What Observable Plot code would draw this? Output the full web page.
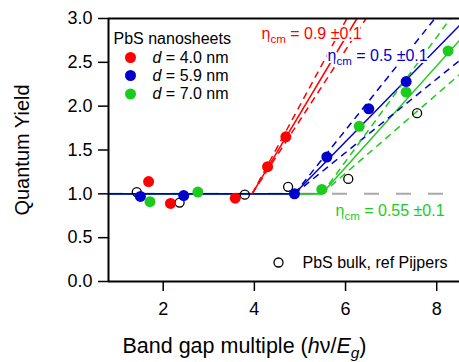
<!DOCTYPE html>
<html><head><meta charset="utf-8">
<script src="https://cdn.jsdelivr.net/npm/d3@7"></script>
<script src="https://cdn.jsdelivr.net/npm/@observablehq/plot@0.6"></script>
<style>body{margin:0;background:#fff}svg{display:block}</style>
</head><body><div id="chart"></div>
<script>
// ---- data ----
const seriesNames = ["d = 4.0 nm", "d = 5.9 nm", "d = 7.0 nm"];
const seriesColors = ["#ff0000", "#0000cc", "#1ccc1c"];
const redX = [1.68, 2.16, 3.58, 4.29, 4.69];
const redY = [1.14, 0.89, 0.95, 1.31, 1.65];
const blueX = [1.50, 2.45, 4.88, 5.59, 6.51, 7.33];
const blueY = [0.97, 0.98, 1.00, 1.42, 1.97, 2.28];
const greenX = [1.71, 2.76, 5.48, 6.30, 7.33, 8.25];
const greenY = [0.91, 1.02, 1.05, 1.77, 2.16, 2.63];
const bulkName = "PbS bulk, ref Pijpers";
const bulkX = [1.42, 2.36, 3.79, 4.74, 6.06, 7.57];
const bulkY = [1.02, 0.90, 0.99, 1.08, 1.17, 1.92];
// flat part of the fits (y = 1)
const flatSeries = [2, 1];
const flatX1 = [0.8, 0.8];
const flatX2 = [5.48, 4.88];
// sloped fits: solid line and two dashed error lines per series
const fitSeries = [0, 0, 0, 1, 1, 1, 2, 2, 2];
const fitDashed = [false, true, true, false, true, true, false, true, true];
const fitX1 = [3.95, 3.95, 3.95, 4.88, 4.88, 4.88, 5.48, 5.48, 5.48];
const fitY1 = [1, 1, 1, 1, 1, 1, 1, 1, 1];
const fitX2 = [6.25, 6.03, 6.45, 8.5, 7.96, 8.5, 8.5, 8.3, 8.5];
const fitY2 = [3, 3, 3, 2.92, 3, 2.52, 2.75, 3, 2.36];
const etaValues = ["0.9 ±0.1", "0.5 ±0.1", "0.55 ±0.1"];
const legendTitle = "PbS nanosheets";
const yLabel = "Quantum Yield";
const xLabel = "Band gap multiple (hν/Eg)";
const xTicks = [2, 4, 6, 8];
const yTicks = [0, 0.5, 1, 1.5, 2, 2.5, 3];
const xDomain = [0.8, 8.5];
const yDomain = [0, 3];

// ---- tables ----
const dots = [
  ...redX.map((x, i) => ({x, y: redY[i], s: 0})),
  ...blueX.map((x, i) => ({x, y: blueY[i], s: 1})),
  ...greenX.map((x, i) => ({x, y: greenY[i], s: 2}))
];
const bulk = bulkX.map((x, i) => ({x, y: bulkY[i]}));
const flats = flatSeries.map((s, i) => ({s, x1: flatX1[i], x2: flatX2[i], y: 1}));
const fits = fitSeries.map((s, i) => ({s, dashed: fitDashed[i], x1: fitX1[i], y1: fitY1[i], x2: fitX2[i], y2: fitY2[i]}));
const col = d => seriesColors[d.s];
const FONT = "Liberation Sans, Arial, Helvetica, sans-serif";

const etaPos = [{dx: 153, dy: 15}, {dx: 219, dy: 37}, {dx: 227, dy: 192}];
const rowDy = [39, 57, 75.5];

const chart = Plot.plot({
  width: 459, height: 362,
  marginLeft: 108, marginRight: 0, marginTop: 18, marginBottom: 81,
  x: {domain: xDomain},
  y: {domain: yDomain},
  style: {fontFamily: FONT, color: "#000", background: "#fff"},
  marks: [
    Plot.ruleY([1], {stroke: "#a8a8a8", strokeWidth: 2, strokeDasharray: "15,17"}),
    Plot.link(flats, {x1: "x1", x2: "x2", y1: "y", y2: "y", stroke: col, strokeWidth: 1.8}),
    Plot.link(fits.filter(d => !d.dashed), {x1: "x1", y1: "y1", x2: "x2", y2: "y2", stroke: col, strokeWidth: 1.5, clip: true}),
    Plot.link(fits.filter(d => d.dashed), {x1: "x1", y1: "y1", x2: "x2", y2: "y2", stroke: col, strokeWidth: 1.5, strokeDasharray: "7,5", clip: true}),
    ...etaValues.map((v, i) => Plot.text(["ηcm = " + v], {
      frameAnchor: "top-left", dx: etaPos[i].dx, dy: etaPos[i].dy, textAnchor: "start", lineAnchor: "middle",
      fill: seriesColors[i], stroke: "#fff", strokeWidth: 4, fontSize: 16
    })),
    Plot.dot(bulk, {x: "x", y: "y", r: 4.5, stroke: "#000", fill: "none", strokeWidth: 1.3}),
    Plot.dot(dots, {x: "x", y: "y", r: 5.5, fill: col}),
    Plot.ruleX([xDomain[0]], {stroke: "#000", strokeWidth: 2}),
    Plot.ruleY([yDomain[0]], {stroke: "#000", strokeWidth: 2}),
    Plot.ruleY([yDomain[1]], {stroke: "#000", strokeWidth: 2}),
    Plot.axisY({ticks: yTicks, tickFormat: d3.format(".1f"), tickSize: 10, tickPadding: 6, label: null, fontSize: 18, strokeWidth: 1.5}),
    Plot.axisX({ticks: xTicks, tickSize: 10, tickPadding: 11, label: null, fontSize: 18, strokeWidth: 1.5}),
    Plot.text([yLabel], {frameAnchor: "left", dx: -86, rotate: -90, textAnchor: "middle", lineAnchor: "middle", fontSize: 20}),
    Plot.text([xLabel], {frameAnchor: "bottom-left", dx: 136, dy: 65, textAnchor: "middle", lineAnchor: "middle", fontSize: 21.5}),
    // legend
    Plot.text([legendTitle], {frameAnchor: "top-left", dx: 5, dy: 20, textAnchor: "start", lineAnchor: "middle", fontSize: 16}),
    ...seriesNames.map((name, i) => Plot.dot([name], {frameAnchor: "top-left", dx: 22, dy: rowDy[i], r: 5.5, fill: seriesColors[i]})),
    ...seriesNames.map((name, i) => Plot.text([name], {frameAnchor: "top-left", dx: 44, dy: rowDy[i], textAnchor: "start", lineAnchor: "middle", fontSize: 16})),
    Plot.dot([bulkName], {frameAnchor: "bottom-left", dx: 170, dy: -19, r: 4.5, stroke: "#000", fill: "none", strokeWidth: 1.3}),
    Plot.text([bulkName], {frameAnchor: "bottom-left", dx: 194, dy: -19, textAnchor: "start", lineAnchor: "middle", fontSize: 16})
  ]
});
document.getElementById("chart").appendChild(chart);

// rich text: italic / subscript parts, matched by text content
function rich(node, parts, size, k = 0.28) {
  const t = d3.select(node);
  t.text(null);
  let shift = 0;
  for (const p of parts) {
    const ts = t.append("tspan").text(p.t);
    if (p.i) ts.attr("font-style", "italic");
    const want = p.sub ? size * k : 0;
    if (want !== shift) { ts.attr("dy", (want - shift) + "px"); shift = want; }
    if (p.sub) ts.attr("font-size", (size * 0.72) + "px");
  }
}
d3.select(chart).selectAll("text").each(function() {
  const s = this.textContent;
  const idx = seriesNames.indexOf(s);
  if (idx >= 0) rich(this, [{t: "d", i: true}, {t: s.slice(1)}], 16);
  else if (s.startsWith("ηcm = ")) rich(this, [{t: "η"}, {t: "cm", sub: true}, {t: s.slice(3)}], 16);
  else if (s === xLabel) rich(this, [{t: "Band gap multiple ("}, {t: "h", i: true}, {t: "ν/"}, {t: "E", i: true}, {t: "g", i: true, sub: true}, {t: ")"}], 21.5, 0.2);
});
</script></body></html>
